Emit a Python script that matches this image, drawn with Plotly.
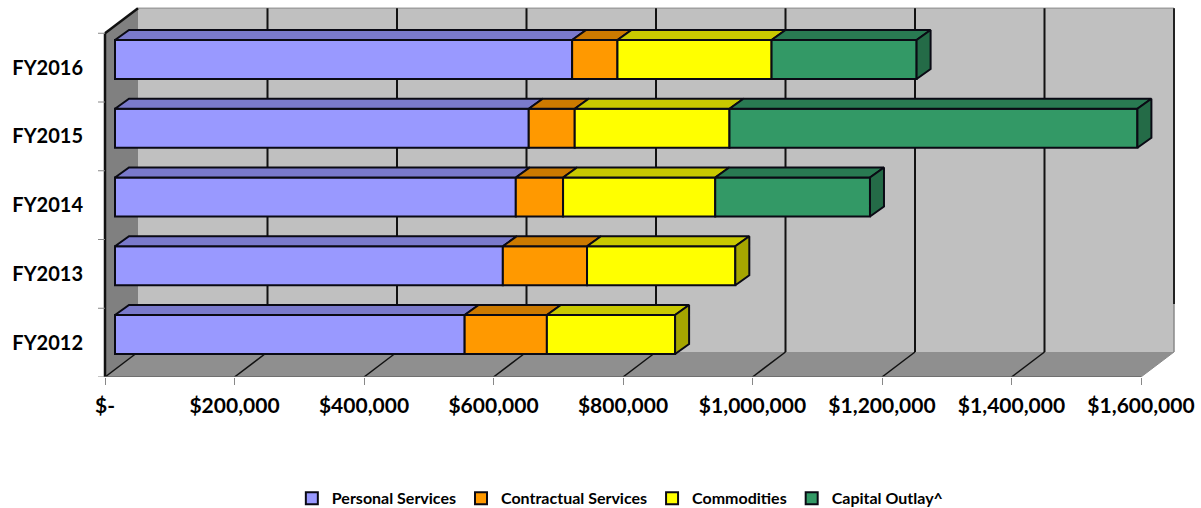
import plotly.graph_objects as go

categories = ["FY2012", "FY2013", "FY2014", "FY2015", "FY2016"]
series_names = ["Personal Services", "Contractual Services", "Commodities", "Capital Outlay^"]
personal = [540000, 599000, 619000, 639000, 706000]
contractual = [127000, 130000, 73000, 71000, 70000]
commodities = [198000, 229000, 235000, 239000, 238000]
capital = [None, None, 239000, 630000, 224000]
tick_values = [0, 200000, 400000, 600000, 800000, 1000000, 1200000, 1400000, 1600000]
tick_labels = ["$-", "$200,000", "$400,000", "$600,000", "$800,000",
               "$1,000,000", "$1,200,000", "$1,400,000", "$1,600,000"]

front = ["#9999FF", "#FF9900", "#FFFF00", "#339966"]
top = ["#7A7ACC", "#CC7A00", "#C9C900", "#297A52"]
side = ["#6B6BB3", "#B36B00", "#A6A600", "#246B47"]
all_series = [personal, contractual, commodities, capital]

FONT = "Lato"
PX_PER_X = (1141 - 105) / 1600000
PX_PER_Y = 68.75
L, R, T, B = 90, 11, 0, 131
W, H = 1201, 508
EDGE = "#0A0A14"


def dx(px):
    return px / PX_PER_X


def dy(px):
    return px / PX_PER_Y


x_range = [dx(L - 105), dx(W - R - 105)]
y_range = [0, dy(377 - T)]

WALL_DX, WALL_DY = dx(33), dy(25)
BAR_DX, BAR_DY = dx(14), dy(10)
BAR_X0 = dx(10)
BAR_CENTER = dy(377 - 334.5)
BAR_H = dy(39)
y_top = len(categories)
x_max = tick_values[-1]

shapes = []


def poly(points, fill, line=None, width=0):
    path = "M" + "L".join(f"{x},{y}" for x, y in points) + "Z"
    shapes.append(dict(type="path", path=path, xref="x", yref="y", layer="below",
                       fillcolor=fill, line=dict(color=line or fill, width=width)))


def seg(x0, y0, x1, y1, color="#000000", width=2):
    shapes.append(dict(type="line", x0=x0, y0=y0, x1=x1, y1=y1, xref="x", yref="y",
                       layer="below", line=dict(color=color, width=width)))


# back wall, floor, side wall
poly([(WALL_DX, WALL_DY), (x_max + WALL_DX, WALL_DY),
      (x_max + WALL_DX, y_top + WALL_DY), (WALL_DX, y_top + WALL_DY)], "#C0C0C0")
poly([(0, 0), (x_max, 0), (x_max + WALL_DX, WALL_DY), (WALL_DX, WALL_DY)], "#8F8F8F")
poly([(0, 0), (WALL_DX, WALL_DY), (WALL_DX, y_top + WALL_DY), (0, y_top)], "#808080")

# grid on the wall and floor
seg(WALL_DX, y_top + WALL_DY, x_max + WALL_DX, y_top + WALL_DY, "#A0A0A0", 1.5)
seg(x_max + WALL_DX, WALL_DY, x_max + WALL_DX, y_top + WALL_DY, "#8A8A8A", 1.5)
seg(x_max + WALL_DX, WALL_DY, x_max, 0, "#8A8A8A", 1)
for t in tick_values[1:-1]:
    seg(t + WALL_DX, WALL_DY, t + WALL_DX, y_top + WALL_DY, "#111111", 2)
    seg(t, 0, t + WALL_DX, WALL_DY, "#111111", 1.5)
# the last gridline fades out toward the floor in the source
seg(x_max + WALL_DX, WALL_DY + dy(48), x_max + WALL_DX, y_top + WALL_DY, "#222222", 2)
seg(0, 0, WALL_DX, WALL_DY, "#111111", 1.5)

# outer edges
seg(0, 0, 0, y_top, "#111111", 2.5)
seg(0, y_top, WALL_DX, y_top + WALL_DY, "#111111", 2.5)
seg(0, 0, x_max, 0, "#666666", 1.5)

# category ticks
for i in range(len(categories) + 1):
    seg(0, i, -dx(7), i, "#888888", 1)

fig = go.Figure()
cum = [0] * len(categories)
top_polys = [([], []) for _ in all_series]
side_polys = [([], []) for _ in all_series]
last_idx = [0] * len(categories)

for s, values in enumerate(all_series):
    bases, vals, ys = [], [], []
    for i, v in enumerate(values):
        if v is None:
            continue
        y_pos = i + BAR_CENTER
        b = BAR_X0 + cum[i]
        bases.append(b)
        vals.append(v)
        ys.append(y_pos)
        yt = y_pos + BAR_H / 2
        tx, ty = top_polys[s]
        tx += [b, b + v, b + v + BAR_DX, b + BAR_DX, b, None]
        ty += [yt, yt, yt + BAR_DY, yt + BAR_DY, yt, None]
        cum[i] += v
        last_idx[i] = s
    fig.add_trace(go.Bar(
        name=series_names[s], orientation="h", x=vals, y=ys, base=bases, width=BAR_H,
        marker=dict(color=front[s], line=dict(color=EDGE, width=2)),
        hoverinfo="name+x"))

for i, s in enumerate(last_idx):
    e = BAR_X0 + cum[i]
    y0 = i + BAR_CENTER - BAR_H / 2
    y1 = y0 + BAR_H
    sx, sy = side_polys[s]
    sx += [e, e + BAR_DX, e + BAR_DX, e, e, None]
    sy += [y0, y0 + BAR_DY, y1 + BAR_DY, y1, y0, None]

for s in range(len(all_series)):
    fig.add_trace(go.Scatter(x=top_polys[s][0], y=top_polys[s][1], mode="lines", fill="toself",
                             fillcolor=top[s], line=dict(color=EDGE, width=2),
                             showlegend=False, hoverinfo="skip"))
    if side_polys[s][0]:
        fig.add_trace(go.Scatter(x=side_polys[s][0], y=side_polys[s][1], mode="lines", fill="toself",
                                 fillcolor=side[s], line=dict(color=EDGE, width=2),
                                 showlegend=False, hoverinfo="skip"))

fig.update_layout(
    width=W, height=H, autosize=False,
    margin=dict(l=L, r=R, t=T, b=B, pad=0),
    paper_bgcolor="#FFFFFF", plot_bgcolor="#FFFFFF",
    barmode="overlay", shapes=shapes, showlegend=True,
    font=dict(family=FONT, color="#000000"),
    legend=dict(orientation="h", xref="container", yref="container", x=0.243, y=0.019,
                xanchor="left", yanchor="middle", traceorder="normal",
                font=dict(family=FONT, size=16, weight=700, color="#000000"),
                itemsizing="constant", itemclick=False, itemdoubleclick=False),
    xaxis=dict(range=x_range, tickmode="array", tickvals=tick_values, ticktext=tick_labels,
               showgrid=False, zeroline=False, showline=False, ticks="outside", ticklen=7,
               tickcolor="#888888", ticklabelstandoff=3,
               tickfont=dict(family=FONT, size=21, weight=700, color="#000000")),
    yaxis=dict(range=y_range, tickmode="array",
               tickvals=[i + 0.5 for i in range(len(categories))], ticktext=categories,
               showgrid=False, zeroline=False, showline=False, ticks="", ticklabelstandoff=6,
               tickfont=dict(family=FONT, size=20, weight=700, color="#000000")),
)

fig.write_html("out.html", config={"displayModeBar": False},
               post_script="document.body.style.margin='0';")
